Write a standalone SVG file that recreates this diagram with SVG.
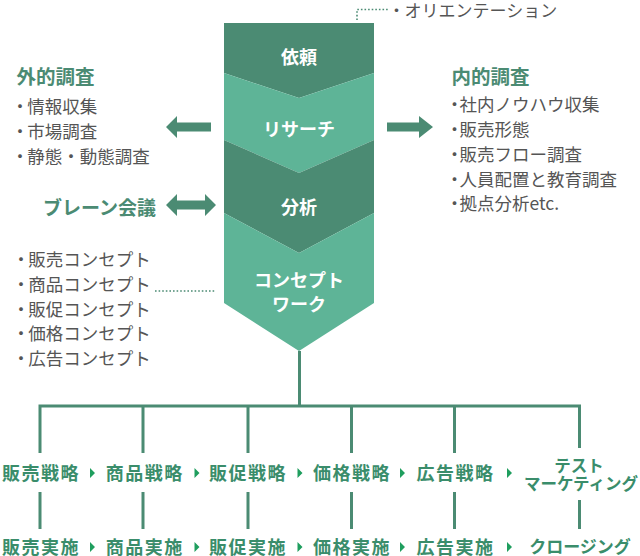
<svg xmlns="http://www.w3.org/2000/svg" width="640" height="556" viewBox="0 0 640 556">
<style>
text{font-family:"Noto Sans CJK JP","Noto Sans",sans-serif;dominant-baseline:central}
.dk{fill:#4b8b73}
.lt{fill:#5eb497}
.box{fill:#fff;font-size:18px;font-weight:bold;text-anchor:middle}
.head{fill:#4b8b73;font-size:19.5px;font-weight:bold}
.li{fill:#555;font-size:17.5px}
.b{letter-spacing:-3.75px}
.b2{letter-spacing:-1.5px}
.ln{fill:none;stroke:#4b8b73;stroke-width:3}
.dot{fill:none;stroke:#4b8b73;stroke-width:1.6;stroke-dasharray:1.6 2}
.lbl{fill:#3a8d6b;font-size:18px;font-weight:bold;text-anchor:middle;letter-spacing:1.5px}
.lbs{fill:#3a8d6b;font-size:16.5px;font-weight:bold;text-anchor:middle}
.tri{fill:#1f9e5e}
</style>

<g id="node-irai">
<polygon class="dk" points="224,23 374,23 374,73 299,98 224,73"/>
<text class="box" x="299" y="56">依頼</text>
</g>
<g id="node-research">
<polygon class="lt" points="224,73 299,98 374,73 374,140 299,173 224,140"/>
<text class="box" x="299" y="128">リサーチ</text>
</g>
<g id="node-bunseki">
<polygon class="dk" points="224,140 299,173 374,140 374,213 299,253 224,213"/>
<text class="box" x="299" y="206">分析</text>
</g>
<g id="node-concept">
<polygon class="lt" points="224,213 299,253 374,213 374,303 299,351 224,303"/>
<text class="box" x="299" y="279"><tspan x="299" y="279">コンセプト</tspan><tspan x="299" y="303">ワーク</tspan></text>
</g>

<g id="node-orientation">
<text class="li" style="font-size:17px" x="388" y="9"><tspan style="letter-spacing:-0.5px">・</tspan>オリエンテーション</text>
</g>

<g id="node-gaiteki">
<text class="head" x="16.5" y="75">外的調査</text>
<text class="li" x="11.25" y="105"><tspan class="b2">・</tspan>情報収集</text>
<text class="li" x="11.25" y="130"><tspan class="b2">・</tspan>市場調査</text>
<text class="li" x="11.25" y="155"><tspan class="b2">・</tspan>静態・動態調査</text>
</g>

<g id="node-naiteki">
<text class="head" x="451.5" y="75">内的調査</text>
<text class="li" x="445.75" y="103"><tspan class="b">・</tspan>社内ノウハウ収集</text>
<text class="li" x="445.75" y="128"><tspan class="b">・</tspan>販売形態</text>
<text class="li" x="445.75" y="153"><tspan class="b">・</tspan>販売フロー調査</text>
<text class="li" x="445.75" y="178"><tspan class="b">・</tspan>人員配置と教育調査</text>
<text class="li" x="445.75" y="202"><tspan class="b">・</tspan>拠点分析etc.</text>
</g>

<g id="node-brain">
<text class="head" x="156" y="206" style="text-anchor:end;font-size:19px">ブレーン会議</text>
</g>

<g id="node-conceptlist">
<text class="li" x="12.25" y="258"><tspan class="b2">・</tspan>販売コンセプト</text>
<text class="li" x="12.25" y="283"><tspan class="b2">・</tspan>商品コンセプト</text>
<text class="li" x="12.25" y="308"><tspan class="b2">・</tspan>販促コンセプト</text>
<text class="li" x="12.25" y="332"><tspan class="b2">・</tspan>価格コンセプト</text>
<text class="li" x="12.25" y="357"><tspan class="b2">・</tspan>広告コンセプト</text>
</g>

<g id="node-strategy">
<text class="lbl" x="41" y="472">販売戦略</text>
<text class="lbl" x="144.75" y="472">商品戦略</text>
<text class="lbl" x="248" y="472">販促戦略</text>
<text class="lbl" x="352" y="472">価格戦略</text>
<text class="lbl" x="455.5" y="472">広告戦略</text>
<text class="lbs" x="579" y="465"><tspan x="579" y="465">テスト</tspan><tspan x="581" y="483">マーケティング</tspan></text>
</g>

<g id="node-execution">
<text class="lbl" x="41" y="546">販売実施</text>
<text class="lbl" x="144.75" y="546">商品実施</text>
<text class="lbl" x="248" y="546">販促実施</text>
<text class="lbl" x="352" y="546">価格実施</text>
<text class="lbl" x="455.5" y="546">広告実施</text>
<text class="lbs" x="580" y="545" style="font-size:17px">クロージング</text>
</g>

<g id="connectors">
<polygon class="dk" points="166,127 177,116 177,122.5 211,122.5 211,131.5 177,131.5 177,138"/>
<polygon class="dk" points="433,127 419,116 419,122.5 387,122.5 387,131.5 419,131.5 419,138"/>
<polygon class="dk" points="166,205 177,194 177,200.5 205,200.5 205,194 216,205 205,216 205,209.5 177,209.5 177,216"/>
<path class="dot" d="M357,20 V9.5 H388"/>
<path class="dot" d="M155,291 H216"/>
<path class="ln" d="M299.5,351 V406 M40,453 V406 H579.5 V448 M143,406 V453 M248,406 V453 M351.5,406 V453 M454.5,406 V453"/>
<path class="ln" d="M40,492 V529 M143,492 V529 M248,492 V529 M351.5,492 V529 M454.5,492 V529 M579.5,500 V529"/>
<path class="tri" d="M90,468 L95,473 L90,478 Z M194.5,468 L199.5,473 L194.5,478 Z M297.5,468 L302.5,473 L297.5,478 Z M400,468 L405,473 L400,478 Z M507,468 L512,473 L507,478 Z"/>
<path class="tri" d="M90,542 L95,547 L90,552 Z M194.5,542 L199.5,547 L194.5,552 Z M297.5,542 L302.5,547 L297.5,552 Z M400,542 L405,547 L400,552 Z M507,542 L512,547 L507,552 Z"/>
</g>
</svg>
